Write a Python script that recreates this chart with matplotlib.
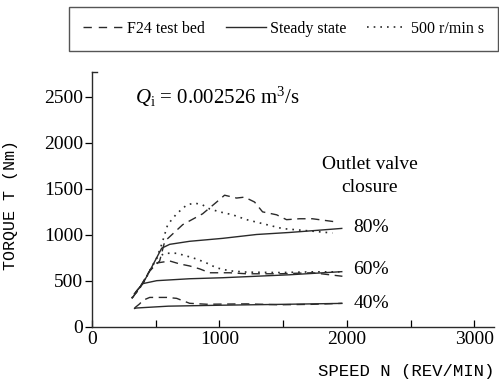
import matplotlib
matplotlib.use('Agg')
import matplotlib.pyplot as plt
from matplotlib.lines import Line2D

plt.rcParams['mathtext.fontset'] = 'custom'
plt.rcParams['mathtext.rm'] = 'Liberation Serif'
plt.rcParams['mathtext.it'] = 'Liberation Serif:italic'

# data (speed rev/min, torque Nm)
ss80_x = [335, 400, 470, 548, 611, 767, 1026, 1292, 1550, 1730, 1960]
ss80_y = [360, 470, 650, 855, 897, 930, 962, 1004, 1026, 1045, 1070]
ss60_x = [335, 353, 400, 509, 767, 1026, 1550, 1960]
ss60_y = [360, 395, 470, 502, 523, 534, 566, 600]
ss40_x = [335, 350, 600, 1000, 1500, 1960]
ss40_y = [200, 205, 225, 235, 245, 255]

tb80_x = [320, 376, 454, 532, 572, 713, 869, 979, 1041, 1135, 1198, 1276, 1339, 1449, 1527, 1629, 1730, 1903]
tb80_y = [320, 427, 609, 716, 930, 1111, 1229, 1357, 1431, 1400, 1410, 1357, 1250, 1218, 1165, 1175, 1175, 1143]
tb60_x = [320, 376, 454, 509, 611, 689, 767, 846, 924, 1081, 1214, 1472, 1730, 1965]
tb60_y = [320, 427, 609, 694, 716, 684, 662, 630, 588, 588, 577, 577, 588, 550]
tb40_x = [335, 375, 400, 454, 587, 665, 767, 900, 1214, 1472, 1730, 1965]
tb40_y = [205, 250, 288, 320, 320, 310, 256, 246, 250, 240, 245, 256]

tr80_x = [313, 400, 509, 548, 595, 665, 744, 806, 869, 924, 1002, 1104, 1214, 1339, 1496, 1730, 1887]
tr80_y = [310, 470, 748, 897, 1111, 1229, 1325, 1346, 1325, 1282, 1250, 1218, 1165, 1122, 1068, 1040, 1020]
tr60_x = [313, 400, 509, 572, 665, 744, 822, 900, 979, 1081, 1214, 1472, 1730, 1942]
tr60_y = [310, 470, 748, 800, 800, 770, 737, 694, 641, 609, 595, 590, 598, 598]

labels = ['80%', '60%', '40%']
label_y = [1075, 620, 255]

fig = plt.figure(figsize=(4.99, 3.85), dpi=100)
ax = fig.add_axes([0.184, 0.151, 0.805, 0.662])

lc = '#2a2a2a'
dash = dict(color=lc, lw=1.0, linestyle=(0, (6, 4)))
solid = dict(color=lc, lw=1.0)
dot = dict(color=lc, lw=1.2, linestyle=(0, (1, 3)))

ax.plot(ss80_x, ss80_y, **solid)
ax.plot(ss60_x, ss60_y, **solid)
ax.plot(ss40_x, ss40_y, **solid)
ax.plot(tb80_x, tb80_y, **dash)
ax.plot(tb60_x, tb60_y, **dash)
ax.plot(tb40_x, tb40_y, **dash)
ax.plot(tr80_x, tr80_y, **dot)
ax.plot(tr60_x, tr60_y, **dot)

serif = 'Liberation Serif'
mono = 'Liberation Mono'

for lab, yy in zip(labels, label_y):
    ax.text(2050, yy, lab, fontsize=14, family=serif, va='center', ha='left')
ax.text(2180, 1760, 'Outlet valve', fontsize=14, family=serif, ha='center', va='center')
ax.text(2180, 1510, 'closure', fontsize=14, family=serif, ha='center', va='center')
ax.text(337, 2500, r'$Q_\mathrm{i}$ = 0.002526 m$^3$/s', fontsize=15,
        family=serif, va='center', ha='left')

ax.set_xlim(0, 3150)
ax.set_ylim(0, 2770)
ax.set_xticks([0, 1000, 2000, 3000])
ax.set_xticks([500, 1500, 2500], minor=True)
ax.set_yticks([0, 500, 1000, 1500, 2000, 2500])
ax.tick_params(axis='x', direction='in', length=5, width=0.9, labelsize=14, pad=3)
ax.tick_params(axis='x', which='minor', direction='in', length=5, width=0.9)
ax.tick_params(axis='y', direction='out', length=5, width=0.9, labelsize=14, pad=1)
for t in ax.get_xticklabels() + ax.get_yticklabels():
    t.set_family(serif)

for s in ['top', 'right']:
    ax.spines[s].set_visible(False)
for s in ['left', 'bottom']:
    ax.spines[s].set_linewidth(1.0)
    ax.spines[s].set_color(lc)
# small bracket at top of y axis
ax.plot([0, 40], [2770, 2770], color=lc, lw=1.0, clip_on=False)

ax.set_ylabel('TORQUE T (Nm)', family=mono, fontsize=12)
ax.yaxis.set_label_coords(-0.184, 0.48)
fig.text(0.99, 0.035, 'SPEED N (REV/MIN)', family=mono, fontsize=12.5,
         ha='right', va='center')

leg_dash = dict(color=lc, lw=1.0, linestyle=(0, (6, 5)))
handles = [Line2D([], [], **leg_dash), Line2D([], [], **solid), Line2D([], [], **dot)]
leg = fig.legend(handles, ['F24 test bed', 'Steady state', '500 r/min s'],
                 loc='center', bbox_to_anchor=(0.568, 0.925), ncol=3,
                 frameon=True, fancybox=False, edgecolor=lc, handlelength=2.5,
                 columnspacing=1.3, handletextpad=0.25, borderpad=0.9,
                 prop={'family': serif, 'size': 11.5})
leg.get_frame().set_linewidth(1.0)

fig.savefig('out.png', dpi=100)
